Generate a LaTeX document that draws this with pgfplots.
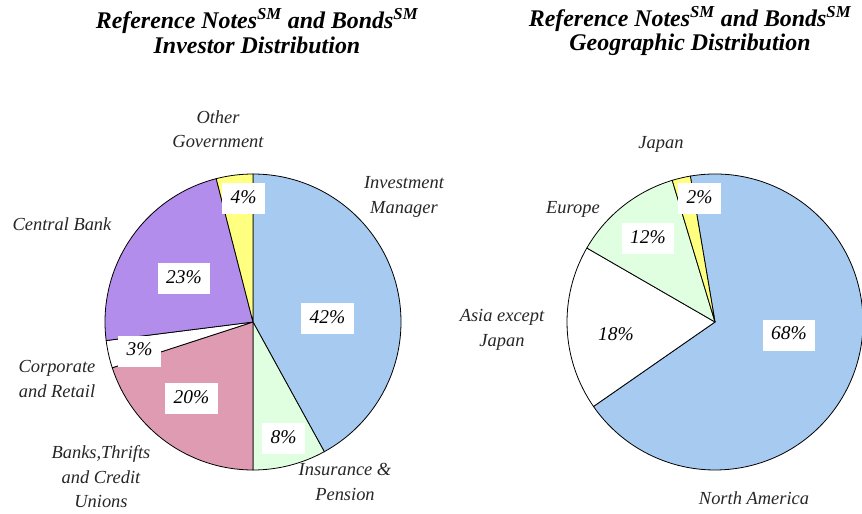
\documentclass[border=0pt]{standalone}
\usepackage{pgfplots}
\usepackage{pgfplotstable}
\pgfplotsset{compat=1.18}
\usepackage{fontspec}
\setmainfont{Liberation Serif}

\definecolor{pieblue}{HTML}{A6CAF0}
\definecolor{piegreen}{HTML}{E0FFE0}
\definecolor{piepink}{HTML}{DE9BB1}
\definecolor{piepurple}{HTML}{B38DEB}
\definecolor{pieyellow}{HTML}{FFFF80}

% shares in %, clockwise from the first slice; lx ly = centre of the % box (px from top left)
\pgfplotstableread{
share colour lx ly
42 pieblue 327.5 318.5
8 piegreen 283.5 438.5
20 piepink 191.5 398.5
3 white 139.5 351
23 piepurple 184 278.5
4 pieyellow 243.5 198.5
}\investor

\pgfplotstableread{
share colour lx ly
68 pieblue 789 335
18 white 616 336
12 piegreen 648 238.5
2 pieyellow 699.5 198.5
}\geo

% #1 table, #2 #3 centre, #4 angle where the first slice starts
\newcommand\pie[4]{%
  \pgfplotsextra{%
    \pgfplotstablegetrowsof{#1}%
    \pgfmathtruncatemacro\lastrow{\pgfplotsretval-1}%
    \xdef\astart{#4}%
    \foreach \i in {0,...,\lastrow}{%
      \pgfplotstablegetelem{\i}{share}\of{#1}\let\share\pgfplotsretval
      \pgfplotstablegetelem{\i}{colour}\of{#1}\let\col\pgfplotsretval
      \pgfmathsetmacro\aend{\astart-3.6*\share}%
      \filldraw[fill=\col,draw=black,line width=0.8bp,line join=round]
        (axis cs:#2,#3) -- ++(\astart:148bp)
        arc[start angle=\astart,end angle=\aend,radius=148bp] -- cycle;
      \xdef\astart{\aend}%
    }%
    \foreach \i in {0,...,\lastrow}{%
      \pgfplotstablegetelem{\i}{share}\of{#1}\let\share\pgfplotsretval
      \pgfplotstablegetelem{\i}{lx}\of{#1}\let\lx\pgfplotsretval
      \pgfplotstablegetelem{\i}{ly}\of{#1}\let\ly\pgfplotsretval
      \node[pct] at (axis cs:\lx,\ly) {\share\%};
    }%
  }%
}

\tikzset{
  pct/.style={fill=white,font=\fontsize{19.5}{22}\selectfont\itshape,
    inner xsep=8.5bp,inner ysep=7bp,text height=13bp,text depth=4bp},
  lab/.style={font=\fontsize{18.5}{24.5}\selectfont\itshape,align=center,
    inner sep=0pt,text=black!85},
  ttl/.style={font=\fontsize{24}{25}\selectfont\bfseries\itshape,align=center,
    inner sep=0pt},
}

\begin{document}
\begin{tikzpicture}
\begin{axis}[
    at={(0,0)}, anchor=south west,
    width=862bp, height=514bp, scale only axis,
    hide axis, clip=false,
    xmin=0, xmax=862, ymin=0, ymax=514, y dir=reverse,
]
\pie{\investor}{253}{322}{90}
\pie{\geo}{715}{322}{99.6}

\node[ttl] at (axis cs:257,31) {Reference Notes\textsuperscript{SM} and Bonds\textsuperscript{SM}\\Investor Distribution};
\node[ttl] at (axis cs:690,31) {Reference Notes\textsuperscript{SM} and Bonds\textsuperscript{SM}\\Geographic Distribution};

\node[lab] at (axis cs:218,129) {Other\\Government};
\node[lab] at (axis cs:404,197) {Investment\\Manager};
\node[lab] at (axis cs:62,224) {Central Bank};
\node[lab] at (axis cs:57,379) {Corporate\\and Retail};
\node[lab] at (axis cs:101,477) {Banks,Thrifts\\and Credit\\Unions};
\node[lab] at (axis cs:345,482) {Insurance \&\\Pension};

\node[lab] at (axis cs:661,144) {Japan};
\node[lab] at (axis cs:573,209) {Europe};
\node[lab] at (axis cs:502,330) {Asia except\\Japan};
\node[lab] at (axis cs:754,498) {North America};
\end{axis}
\pgfresetboundingbox
\path (0,0) rectangle (862bp,514bp);
\end{tikzpicture}
\end{document}
